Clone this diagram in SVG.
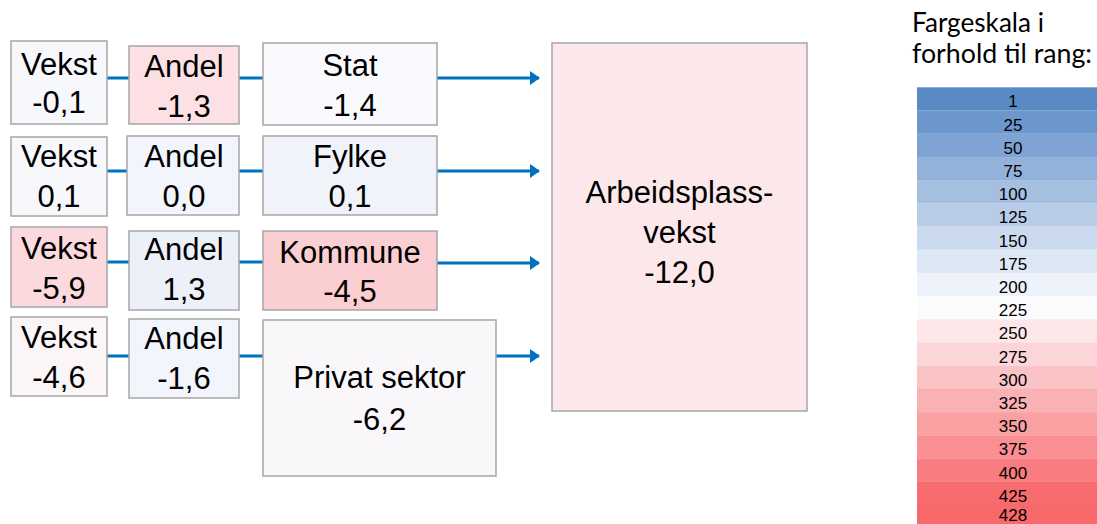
<svg xmlns="http://www.w3.org/2000/svg" width="1097" height="524" viewBox="0 0 1097 524">
<style>
.box{stroke:#A6A6A6;stroke-width:1.5}
.t{font-size:31px;fill:#000;text-anchor:middle}
.c{stroke:#0070C0;stroke-width:3;fill:none}
.s{font-size:17px;fill:#000;text-anchor:middle}
.h{font-size:27px;fill:#000}
</style>
<defs>
<marker id="arr" markerWidth="10" markerHeight="14" refX="9" refY="7" orient="auto" markerUnits="userSpaceOnUse" viewBox="0 0 10 14">
<path d="M0,0 L10,7 L0,14 z" fill="#0070C0"/>
</marker>
</defs>
<rect width="1097" height="524" fill="#FFFFFF"/>
<g id="connectors">
<line class="c" x1="107" y1="78" x2="129" y2="78"/>
<line class="c" x1="239" y1="78" x2="263" y2="78"/>
<line class="c" x1="437" y1="78" x2="539" y2="78" marker-end="url(#arr)"/>
<line class="c" x1="107" y1="171" x2="127" y2="171"/>
<line class="c" x1="239" y1="171" x2="263" y2="171"/>
<line class="c" x1="437" y1="171" x2="539" y2="171" marker-end="url(#arr)"/>
<line class="c" x1="107" y1="262" x2="129" y2="262"/>
<line class="c" x1="239" y1="262" x2="263" y2="262"/>
<line class="c" x1="437" y1="263" x2="539" y2="263" marker-end="url(#arr)"/>
<line class="c" x1="107" y1="356" x2="129" y2="356"/>
<line class="c" x1="239" y1="356" x2="263" y2="356"/>
<line class="c" x1="496" y1="356" x2="539" y2="356" marker-end="url(#arr)"/>
</g>
<g font-family="'Liberation Sans', Arial, sans-serif">
<g id="vekst1"><rect class="box" x="11" y="41" width="96" height="83" fill="#F7F8FC"/><text class="t" x="59" y="75">Vekst</text><text class="t" x="59" y="113">-0,1</text></g>
<g id="andel1"><rect class="box" x="129" y="46" width="110" height="78" fill="#FCE0E3"/><text class="t" x="184" y="77">Andel</text><text class="t" x="184" y="117">-1,3</text></g>
<g id="stat"><rect class="box" x="263" y="43" width="174" height="82" fill="#F9FAFD"/><text class="t" x="350" y="76">Stat</text><text class="t" x="350" y="116">-1,4</text></g>
<g id="vekst2"><rect class="box" x="11" y="137" width="96" height="79" fill="#F7F8FC"/><text class="t" x="59" y="167">Vekst</text><text class="t" x="59" y="207">0,1</text></g>
<g id="andel2"><rect class="box" x="127" y="136" width="112" height="79" fill="#F2F5FB"/><text class="t" x="184" y="167">Andel</text><text class="t" x="184" y="207">0,0</text></g>
<g id="fylke"><rect class="box" x="263" y="136" width="174" height="79" fill="#F0F3FA"/><text class="t" x="350" y="167">Fylke</text><text class="t" x="350" y="207">0,1</text></g>
<g id="vekst3"><rect class="box" x="11" y="227" width="96" height="80" fill="#FCD9DC"/><text class="t" x="59" y="259">Vekst</text><text class="t" x="59" y="299">-5,9</text></g>
<g id="andel3"><rect class="box" x="129" y="231" width="110" height="79" fill="#ECF0F9"/><text class="t" x="184" y="260">Andel</text><text class="t" x="184" y="300">1,3</text></g>
<g id="kommune"><rect class="box" x="263" y="231" width="174" height="79" fill="#FBCFD2"/><text class="t" x="350" y="263">Kommune</text><text class="t" x="350" y="302">-4,5</text></g>
<g id="vekst4"><rect class="box" x="11" y="317" width="96" height="79" fill="#FBF5F7"/><text class="t" x="59" y="348">Vekst</text><text class="t" x="59" y="388">-4,6</text></g>
<g id="andel4"><rect class="box" x="129" y="319" width="110" height="79" fill="#F2F5FB"/><text class="t" x="184" y="349">Andel</text><text class="t" x="184" y="389">-1,6</text></g>
<g id="privat"><rect class="box" x="263" y="320" width="233" height="156" fill="#F9F7FA"/><text class="t" x="379.5" y="388">Privat sektor</text><text class="t" x="379.5" y="430">-6,2</text></g>
<g id="arbeidsplass"><rect class="box" x="552" y="43" width="255" height="368" fill="#FCE8EA"/><text class="t" x="679.5" y="203">Arbeidsplass-</text><text class="t" x="679.5" y="243">vekst</text><text class="t" x="679.5" y="283">-12,0</text></g>
</g>
<g id="legend" font-family="'Liberation Sans', Arial, sans-serif">
<text class="h" font-family="Lato, 'Liberation Sans', sans-serif" x="912" y="32" textLength="132" lengthAdjust="spacingAndGlyphs">Fargeskala i</text>
<text class="h" font-family="Lato, 'Liberation Sans', sans-serif" x="912" y="63" textLength="180" lengthAdjust="spacingAndGlyphs">forhold til rang:</text>
<rect x="917" y="87.3" width="200" height="23.3" fill="#5A8AC6"/>
<rect x="917" y="110.5" width="200" height="23.3" fill="#6C97CC"/>
<rect x="917" y="133.7" width="200" height="23.3" fill="#7FA4D3"/>
<rect x="917" y="156.9" width="200" height="23.3" fill="#92B2DA"/>
<rect x="917" y="180.1" width="200" height="23.3" fill="#A5BFE0"/>
<rect x="917" y="203.3" width="200" height="23.3" fill="#B8CCE7"/>
<rect x="917" y="226.5" width="200" height="23.3" fill="#CBDAEE"/>
<rect x="917" y="249.7" width="200" height="23.3" fill="#DEE7F4"/>
<rect x="917" y="272.9" width="200" height="23.3" fill="#EEF2FA"/>
<rect x="917" y="296.1" width="200" height="23.3" fill="#FBFAFD"/>
<rect x="917" y="319.3" width="200" height="23.3" fill="#FCE6E8"/>
<rect x="917" y="342.5" width="200" height="23.3" fill="#FBD5D8"/>
<rect x="917" y="365.7" width="200" height="23.3" fill="#FAC3C6"/>
<rect x="917" y="388.9" width="200" height="23.3" fill="#FAB1B4"/>
<rect x="917" y="412.1" width="200" height="23.3" fill="#F9A0A3"/>
<rect x="917" y="435.3" width="200" height="23.3" fill="#F98F92"/>
<rect x="917" y="458.5" width="200" height="23.3" fill="#F97D80"/>
<rect x="917" y="481.7" width="200" height="23.3" fill="#F86B6E"/>
<rect x="917" y="504.9" width="200" height="23.3" fill="#F8696B"/>
<text class="s" x="1013" y="107">1</text>
<text class="s" x="1013" y="130.5">25</text>
<text class="s" x="1013" y="153.7">50</text>
<text class="s" x="1013" y="176.9">75</text>
<text class="s" x="1013" y="200.1">100</text>
<text class="s" x="1013" y="223.3">125</text>
<text class="s" x="1013" y="246.5">150</text>
<text class="s" x="1013" y="269.7">175</text>
<text class="s" x="1013" y="292.9">200</text>
<text class="s" x="1013" y="316.1">225</text>
<text class="s" x="1013" y="339.3">250</text>
<text class="s" x="1013" y="362.5">275</text>
<text class="s" x="1013" y="385.7">300</text>
<text class="s" x="1013" y="408.9">325</text>
<text class="s" x="1013" y="432.1">350</text>
<text class="s" x="1013" y="455.3">375</text>
<text class="s" x="1013" y="478.5">400</text>
<text class="s" x="1013" y="501.7">425</text>
<text class="s" x="1013" y="520.5">428</text>
</g>
</svg>
